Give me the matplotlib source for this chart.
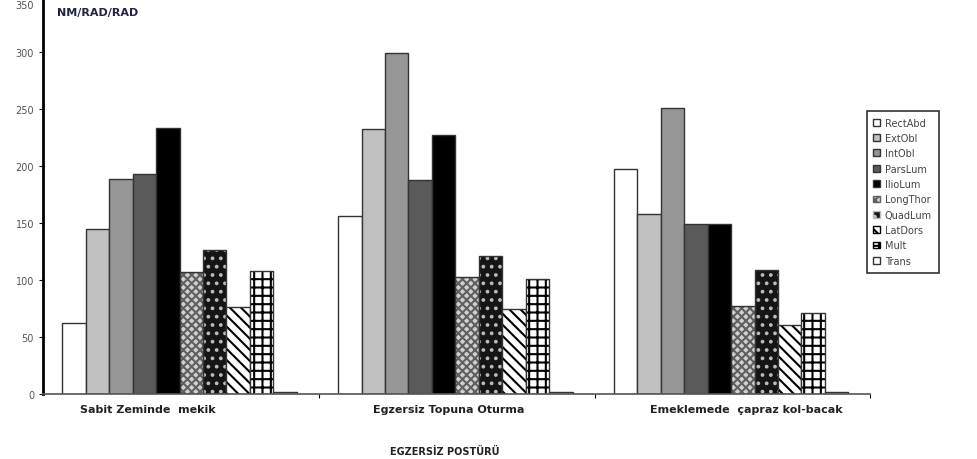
import numpy as np
import matplotlib.pyplot as plt
from matplotlib.transforms import ScaledTranslation

postur = ['Sabit Zeminde  mekik', 'Egzersiz Topuna Oturma', 'Emeklemede  çapraz kol-bacak']
kaslar = ['RectAbd', 'ExtObl', 'IntObl', 'ParsLum', 'IlioLum',
          'LongThor', 'QuadLum', 'LatDors', 'Mult', 'Trans']

# her kas icin 3 postur degeri (NM/RAD/RAD)
rect_abd = [62, 156, 197]
ext_obl = [145, 232, 158]
int_obl = [189, 299, 251]
pars_lum = [193, 188, 149]
ilio_lum = [233, 227, 149]
long_thor = [107, 103, 77]
quad_lum = [126, 121, 109]
lat_dors = [76, 75, 61]
mult = [108, 101, 71]
trans = [1.5, 1.5, 1.5]
degerler = [rect_abd, ext_obl, int_obl, pars_lum, ilio_lum,
            long_thor, quad_lum, lat_dors, mult, trans]

# (yuz rengi, tarama, tarama rengi)
stiller = [('white', None, None),
           ('#c0c0c0', None, None),
           ('#969696', None, None),
           ('#5a5a5a', None, None),
           ('black', None, None),
           ('#d0d0d0', 'xxxx', '#606060'),
           ('#151515', '..', '#bbbbbb'),
           ('white', '\\\\\\', 'black'),
           ('white', '++', 'black'),
           ('white', None, None)]

plt.rcParams['hatch.linewidth'] = 1.5

fig = plt.figure(figsize=(9.78, 4.6), dpi=100)
ax = fig.add_axes([0.044, 0.141, 0.846, 0.868])

x = np.arange(1, 4)
w = 0.085
for i, (ad, vals, st) in enumerate(zip(kaslar, degerler, stiller)):
    pos = x - 0.43 + w * (i + 0.5)
    fc, h, hc = st
    if h:
        ax.bar(pos, vals, w, color=fc, edgecolor=hc, hatch=h, linewidth=0)
        ax.bar(pos, vals, w, facecolor='none', edgecolor='#333333', linewidth=1.0)
        ax.bar([0], [0], 0, color=fc, edgecolor=hc, hatch=h, label=ad)
    else:
        ax.bar(pos, vals, w, color=fc, edgecolor='#333333', linewidth=1.0, label=ad)

ax.set_xlim(0.5, 3.5)
ax.set_ylim(0, 350)
ax.set_yticks(range(0, 351, 50))
ax.tick_params(axis='y', labelsize=7, labelcolor='#555555', length=3)
ust = ax.get_yticklabels()[-1]
ust.set_va('top')
ust.set_transform(ust.get_transform() + ScaledTranslation(0, -4 / 72, fig.dpi_scale_trans))
ax.set_xticks([1.5, 2.5, 3.5])
ax.set_xticklabels([])
ax.tick_params(axis='x', length=3)
for xi, lab, dx in zip(x, postur, [-0.12, -0.03, 0.05]):
    ax.text(xi + dx, -9, lab, ha='center', va='top', fontsize=8,
            fontweight='bold', color='#222222')

ax.spines['top'].set_visible(False)
ax.spines['right'].set_visible(False)
ax.spines['left'].set_linewidth(2)
ax.spines['bottom'].set_linewidth(1.2)
ax.spines['bottom'].set_color('#555555')

fig.text(0.058, 0.965, 'NM/RAD/RAD', fontsize=8, fontweight='bold', color='#222244')
fig.text(0.455, 0.01, 'EGZERSİZ POSTÜRÜ', fontsize=7, fontweight='bold',
         color='#222222', ha='center')

leg = fig.legend(loc='upper left', bbox_to_anchor=(0.886, 0.757), fontsize=7,
                 frameon=True, fancybox=False, edgecolor='black',
                 handlelength=0.7, handleheight=0.7, labelspacing=0.55,
                 borderpad=0.7, handletextpad=0.5, borderaxespad=0)
leg.get_frame().set_linewidth(1.2)
for t in leg.get_texts():
    t.set_color('#444444')

fig.savefig('out.png', dpi=100)
